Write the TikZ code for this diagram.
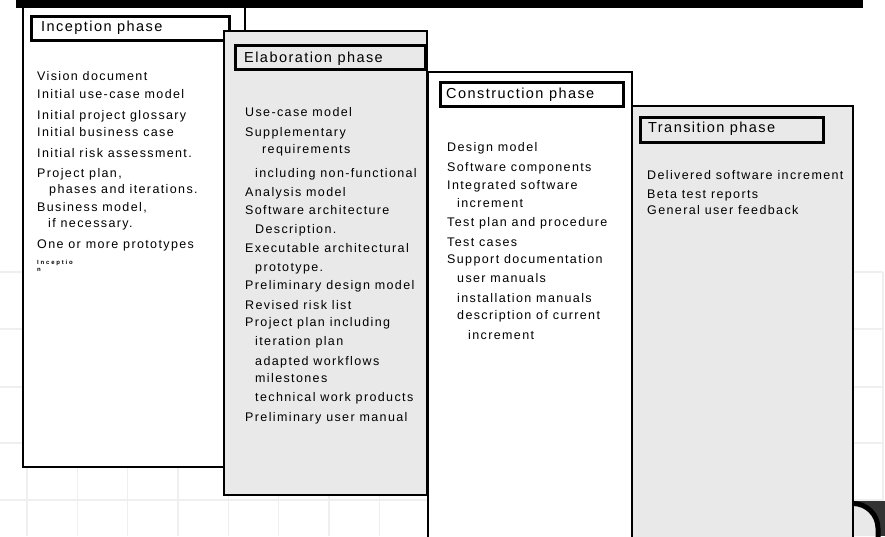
\documentclass[tikz,border=0pt]{standalone}
\usepackage{fontspec}
\setmainfont{Liberation Sans}
\newfontfamily\itemfont{Liberation Sans}[LetterSpace=11]
\newfontfamily\headfont{Liberation Sans}[LetterSpace=10]
\newfontfamily\tagfont{Liberation Sans}[LetterSpace=30]
\definecolor{panelgray}{RGB}{233,233,233}
\definecolor{gridgray}{RGB}{239,239,239}
\definecolor{cornerdark}{RGB}{51,51,51}

\begin{document}
\begin{tikzpicture}[x=1pt,y=-1pt,
  item/.style={anchor=base west, inner sep=0pt, font=\itemfont\fontsize{12.5}{14}\selectfont},
  headtext/.style={anchor=base west, inner sep=0pt, font=\headfont\fontsize{14.5}{16}\selectfont},
  headframe/.style={draw, line width=2.6pt, inner sep=0pt, anchor=north west},
  tagtext/.style={anchor=base west, inner sep=0pt, font=\tagfont\bfseries\fontsize{6}{7}\selectfont},
  whitepanel/.style={draw, line width=1.2pt, fill=white},
  graypanel/.style={draw, line width=1.2pt, fill=panelgray},
  gridline/.style={draw=gridgray, line width=1.3pt},
]
\useasboundingbox (0,0) rectangle (885,536);
\clip (0,0) rectangle (885,536);

% faint background grid
\foreach \gx in {0,...,17}
  \path[gridline] ({27+\gx*50.35},272) -- ({27+\gx*50.35},536);
\foreach \gy in {272,329,387,443,500}
  \path[gridline] (0,\gy) -- (883,\gy);

% rounded dark corner at the lower right
\fill[cornerdark] (853,501) rectangle (885,536);
\fill[panelgray] (853,503.5) .. controls (866.8,503.5) and (878,514.7) .. (878,528.5)
  -- (878,536) -- (853,536) -- cycle;
\draw[line width=5pt] (853,503.5) .. controls (866.8,503.5) and (878,514.7) .. (878,528.5)
  -- (878,540);

% ---- Inception phase ----
\path[whitepanel] (23,5) rectangle (245,467);
\node[headframe, minimum width=198pt, minimum height=24pt] (f1) at (30,15) {};
\node[headtext] (h1) at (41,31) {Inception phase};
\node[item] (a1)  at (37,80)  {Vision document};
\node[item] (a2)  at (37,98)  {Initial use-case model};
\node[item] (a3)  at (37,119) {Initial project glossary};
\node[item] (a4)  at (37,136) {Initial business case};
\node[item] (a5)  at (37,157) {Initial risk assessment.};
\node[item] (a6)  at (37,177) {Project plan,};
\node[item] (a7)  at (49,193) {phases and iterations.};
\node[item] (a8)  at (37,211) {Business model,};
\node[item] (a9)  at (48,227) {if necessary.};
\node[item] (a10) at (37,248) {One or more prototypes};
\node[tagtext] (a11) at (37,264) {Inceptio};
\node[tagtext] (a12) at (37,271) {n};

% black band along the top
\fill (16,0) rectangle (863,8);

% ---- Elaboration phase ----
\path[graypanel] (224,31) rectangle (427,495);
\node[headframe, minimum width=190pt, minimum height=24pt] (f2) at (234,44) {};
\node[headtext] (h2) at (244,62) {Elaboration phase};
\node[item] (b1)  at (245,116) {Use-case model};
\node[item] (b2)  at (245,136) {Supplementary};
\node[item] (b3)  at (262,153) {requirements};
\node[item] (b4)  at (255,177) {including non-functional};
\node[item] (b5)  at (245,196) {Analysis model};
\node[item] (b6)  at (245,214) {Software architecture};
\node[item] (b7)  at (255,233) {Description.};
\node[item] (b8)  at (245,252) {Executable architectural};
\node[item] (b9)  at (255,271) {prototype.};
\node[item] (b10) at (245,289) {Preliminary design model};
\node[item] (b11) at (245,309) {Revised risk list};
\node[item] (b12) at (245,326) {Project plan including};
\node[item] (b13) at (255,345) {iteration plan};
\node[item] (b14) at (255,365) {adapted workflows};
\node[item] (b15) at (255,382) {milestones};
\node[item] (b16) at (255,401) {technical work products};
\node[item] (b17) at (245,421) {Preliminary user manual};

% ---- Construction phase ----
\path[whitepanel] (428,72) rectangle (632,545);
\node[headframe, minimum width=183pt, minimum height=24pt] (f3) at (439,81) {};
\node[headtext] (h3) at (446,98) {Construction phase};
\node[item] (c1)  at (447,151) {Design model};
\node[item] (c2)  at (447,171) {Software components};
\node[item] (c3)  at (447,189) {Integrated software};
\node[item] (c4)  at (457,207) {increment};
\node[item] (c5)  at (447,226) {Test plan and procedure};
\node[item] (c6)  at (447,246) {Test cases};
\node[item] (c7)  at (447,263) {Support documentation};
\node[item] (c8)  at (457,282) {user manuals};
\node[item] (c9)  at (457,302) {installation manuals};
\node[item] (c10) at (457,319) {description of current};
\node[item] (c11) at (468,339) {increment};

% ---- Transition phase ----
\path[graypanel] (632,106) rectangle (853,545);
\node[headframe, minimum width=183pt, minimum height=25pt] (f4) at (639,116) {};
\node[headtext] (h4) at (648,132) {Transition phase};
\node[item] (d1) at (647,179) {Delivered software increment};
\node[item] (d2) at (647,198) {Beta test reports};
\node[item] (d3) at (647,214) {General user feedback};
\end{tikzpicture}
\end{document}
